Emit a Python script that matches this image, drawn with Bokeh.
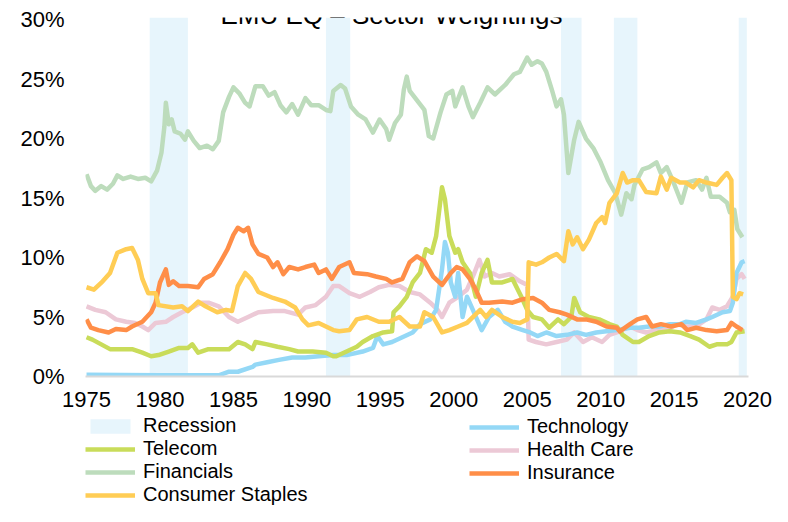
from bokeh.plotting import figure
from bokeh.layouts import column
from bokeh.models import (Range1d, FixedTicker, PrintfTickFormatter, Legend,
                          LegendItem, Label)
from bokeh.embed import file_html
from bokeh.resources import INLINE

# ---------------- data (year, % weight) ----------------
x_ticks = [1975, 1980, 1985, 1990, 1995, 2000, 2005, 2010, 2015, 2020]
y_ticks = [0, 5, 10, 15, 20, 25, 30]

recession_start = [1979.3, 1991.3, 2007.3, 2010.9, 2019.4]
recession_end = [1981.9, 1992.95, 2008.7, 2012.5, 2019.95]

technology = [(1975.0, 0.15), (1980.0, 0.1), (1984.0, 0.1), (1984.7, 0.4), (1985.3, 0.4), (1986.3, 0.8),
              (1986.5, 1.0), (1987.3, 1.2), (1988.1, 1.4), (1989.0, 1.6), (1989.9, 1.6), (1990.8, 1.7),
              (1991.8, 1.8), (1992.7, 1.8), (1993.8, 2.1), (1994.5, 2.4), (1994.8, 3.4), (1995.2, 2.7),
              (1995.8, 2.9), (1996.5, 3.3), (1997.2, 3.7), (1997.7, 4.4), (1998.4, 4.8), (1998.8, 5.6),
              (1999.2, 9.0), (1999.4, 11.3), (1999.6, 10.4), (1999.8, 7.9), (2000.1, 6.7), (2000.3, 8.7),
              (2000.6, 5.0), (2000.9, 6.7), (2001.3, 5.6), (2001.9, 3.9), (2002.4, 5.0), (2003.0, 5.6),
              (2003.5, 4.6), (2004.0, 4.2), (2004.7, 3.9), (2005.2, 3.7), (2005.7, 3.4), (2006.3, 3.7),
              (2007.0, 3.4), (2007.7, 3.5), (2008.4, 3.7), (2009.0, 3.5), (2009.7, 3.7), (2010.4, 3.8),
              (2011.1, 3.9), (2012.0, 4.1), (2012.6, 4.1), (2013.3, 4.2), (2014.0, 4.2), (2014.7, 4.4),
              (2015.4, 4.4), (2015.8, 4.6), (2016.5, 4.5), (2017.2, 4.8), (2017.6, 5.0), (2018.3, 5.4),
              (2018.8, 5.5), (2019.0, 6.2), (2019.25, 8.7), (2019.6, 9.6), (2019.8, 9.7)]

telecom = [(1975.0, 3.3), (1975.4, 3.1), (1976.0, 2.7), (1976.6, 2.3), (1977.4, 2.3), (1978.1, 2.3),
           (1978.8, 2.0), (1979.4, 1.7), (1979.9, 1.8), (1980.6, 2.1), (1981.3, 2.4), (1981.9, 2.4),
           (1982.2, 2.7), (1982.6, 2.0), (1983.3, 2.3), (1984.0, 2.3), (1984.7, 2.3), (1985.3, 2.9),
           (1985.8, 2.7), (1986.3, 2.3), (1986.5, 2.9), (1987.3, 2.7), (1988.0, 2.5), (1988.8, 2.3),
           (1989.4, 2.1), (1990.4, 2.1), (1991.3, 2.0), (1991.8, 1.7), (1992.0, 1.7), (1992.7, 2.1),
           (1993.4, 2.5), (1993.8, 2.9), (1994.5, 3.4), (1995.2, 3.7), (1995.8, 3.8), (1995.9, 5.4),
           (1996.3, 5.9), (1996.8, 6.7), (1997.2, 7.9), (1997.7, 8.7), (1998.1, 10.7), (1998.5, 10.4),
           (1998.8, 11.8), (1999.2, 15.9), (1999.4, 14.9), (1999.7, 11.8), (2000.1, 10.4), (2000.3, 10.7),
           (2000.6, 9.6), (2001.1, 8.7), (2001.5, 6.7), (2001.9, 8.7), (2002.3, 9.8), (2002.6, 7.9),
           (2003.3, 7.9), (2004.0, 8.2), (2004.6, 6.7), (2005.0, 5.6), (2005.4, 5.0), (2006.0, 4.8),
           (2006.5, 4.1), (2007.1, 4.8), (2007.5, 4.4), (2008.0, 5.0), (2008.2, 6.6), (2008.6, 5.4),
           (2009.2, 5.0), (2009.9, 4.8), (2010.6, 4.4), (2011.1, 4.2), (2011.5, 3.5), (2012.2, 2.9),
           (2012.6, 2.9), (2013.3, 3.4), (2014.0, 3.7), (2014.7, 3.8), (2015.4, 3.7), (2016.1, 3.4),
           (2016.7, 3.1), (2017.4, 2.5), (2017.9, 2.7), (2018.6, 2.7), (2018.9, 2.9), (2019.25, 3.7),
           (2019.8, 3.8)]

health_care = [(1975.0, 5.9), (1975.6, 5.6), (1976.3, 5.4), (1977.0, 4.8), (1977.7, 4.6), (1978.3, 4.5),
               (1978.8, 4.2), (1979.2, 3.9), (1979.7, 4.5), (1980.4, 4.6), (1980.9, 5.0), (1981.5, 5.4),
               (1982.2, 5.8), (1982.8, 6.2), (1983.3, 6.2), (1984.0, 5.9), (1984.7, 5.0), (1985.3, 4.6),
               (1986.0, 5.0), (1986.7, 5.4), (1987.7, 5.5), (1988.5, 5.5), (1989.4, 5.2), (1989.9, 5.8),
               (1990.6, 6.0), (1991.3, 6.7), (1991.8, 7.6), (1992.2, 7.6), (1992.9, 7.0), (1993.6, 6.7),
               (1994.3, 7.1), (1994.9, 7.5), (1995.6, 7.7), (1996.3, 7.6), (1997.0, 7.1), (1997.7, 6.9),
               (1998.4, 6.2), (1998.9, 5.6), (1999.2, 5.0), (1999.7, 6.2), (2000.3, 6.7), (2000.9, 7.3),
               (2001.4, 8.7), (2001.75, 9.8), (2002.1, 8.4), (2002.6, 8.7), (2003.1, 8.4), (2003.8, 8.6),
               (2004.5, 8.0), (2005.0, 7.7), (2005.1, 3.1), (2005.6, 2.9), (2006.3, 2.7), (2007.0, 2.9),
               (2007.7, 3.1), (2008.2, 3.7), (2008.8, 2.9), (2009.4, 3.3), (2010.1, 2.9), (2010.6, 3.5),
               (2011.3, 3.8), (2012.0, 4.2), (2012.5, 3.9), (2013.1, 3.7), (2013.8, 3.9), (2014.5, 3.9),
               (2015.2, 4.4), (2015.8, 4.2), (2016.5, 4.2), (2017.2, 4.8), (2017.6, 5.8), (2018.1, 5.6),
               (2018.6, 5.9), (2019.0, 6.7), (2019.25, 8.2), (2019.6, 8.6), (2019.8, 8.2)]

financials = [(1975.0, 17.0), (1975.3, 16.0), (1975.6, 15.6), (1976.0, 16.0), (1976.4, 15.7), (1976.8, 16.2),
              (1977.1, 16.9), (1977.5, 16.6), (1978.0, 16.8), (1978.5, 16.6), (1979.0, 16.7), (1979.4, 16.4),
              (1979.8, 17.3), (1980.1, 18.8), (1980.3, 21.0), (1980.4, 23.0), (1980.6, 21.2), (1980.8, 21.6),
              (1981.0, 20.6), (1981.4, 20.4), (1981.7, 19.9), (1981.9, 20.6), (1982.3, 19.8), (1982.7, 19.2),
              (1983.2, 19.4), (1983.6, 19.1), (1984.0, 19.8), (1984.3, 22.2), (1984.7, 23.5), (1985.0, 24.3),
              (1985.4, 23.8), (1985.8, 23.0), (1986.1, 22.7), (1986.5, 24.4), (1987.0, 24.4), (1987.4, 23.6),
              (1987.8, 23.9), (1988.2, 22.8), (1988.6, 22.2), (1989.0, 22.9), (1989.4, 22.0), (1989.9, 23.4),
              (1990.3, 22.8), (1990.8, 22.8), (1991.3, 22.4), (1991.6, 22.3), (1991.8, 24.0), (1992.3, 24.5),
              (1992.6, 24.2), (1993.0, 22.7), (1993.5, 22.0), (1994.0, 21.6), (1994.5, 20.5), (1994.95, 21.6),
              (1995.4, 20.8), (1995.6, 19.9), (1996.0, 21.3), (1996.4, 22.0), (1996.6, 24.1), (1996.8, 25.2),
              (1997.0, 24.0), (1997.5, 23.2), (1998.0, 22.4), (1998.3, 20.2), (1998.6, 20.0), (1999.1, 22.2),
              (1999.5, 23.7), (1999.9, 24.0), (2000.1, 22.7), (2000.6, 24.3), (2001.0, 22.7), (2001.3, 21.8),
              (2001.8, 23.0), (2002.3, 24.3), (2002.8, 23.7), (2003.5, 24.5), (2004.1, 25.4), (2004.5, 25.6),
              (2005.0, 26.8), (2005.3, 26.2), (2005.7, 26.5), (2006.0, 26.3), (2006.3, 25.6), (2006.7, 24.0),
              (2007.0, 22.7), (2007.3, 23.3), (2007.5, 22.0), (2007.8, 17.1), (2008.2, 19.9), (2008.5, 21.4),
              (2009.0, 20.0), (2009.5, 19.2), (2010.0, 18.0), (2010.5, 16.5), (2011.0, 15.4), (2011.4, 13.6),
              (2011.75, 15.4), (2012.1, 14.9), (2012.3, 16.1), (2012.85, 17.4), (2013.3, 17.6), (2013.8, 18.0),
              (2014.1, 17.1), (2014.5, 17.6), (2014.9, 16.5), (2015.5, 14.6), (2015.9, 16.3), (2016.5, 16.5),
              (2016.9, 15.7), (2017.2, 16.7), (2017.5, 15.1), (2018.1, 15.1), (2018.6, 14.6), (2018.8, 13.8),
              (2019.1, 14.0), (2019.3, 12.4), (2019.65, 11.7)]

insurance = [(1975.0, 4.8), (1975.3, 4.1), (1975.8, 3.9), (1976.5, 3.7), (1977.0, 4.0), (1977.7, 3.9),
             (1978.1, 4.2), (1978.8, 4.6), (1979.4, 5.4), (1979.7, 6.2), (1980.0, 7.9), (1980.4, 9.0),
             (1980.6, 7.7), (1980.9, 8.0), (1981.3, 7.6), (1981.9, 7.6), (1982.6, 7.5), (1983.0, 8.2),
             (1983.6, 8.6), (1984.1, 9.6), (1984.6, 10.7), (1985.0, 11.9), (1985.3, 12.5), (1985.7, 12.2),
             (1986.0, 12.5), (1986.3, 11.1), (1986.7, 10.3), (1987.3, 10.0), (1987.7, 9.2), (1988.0, 9.6),
             (1988.4, 8.6), (1988.8, 9.2), (1989.4, 9.0), (1989.9, 9.2), (1990.5, 9.4), (1990.8, 8.7),
             (1991.3, 9.0), (1991.7, 8.2), (1992.2, 9.2), (1992.9, 9.6), (1993.2, 8.7), (1994.1, 8.6),
             (1994.7, 8.4), (1995.4, 8.2), (1995.8, 7.9), (1996.5, 8.2), (1997.0, 9.6), (1997.5, 10.1),
             (1998.0, 9.7), (1998.6, 8.4), (1999.2, 7.7), (1999.8, 8.7), (2000.2, 9.2), (2000.6, 9.0),
             (2001.1, 8.2), (2001.5, 7.3), (2001.9, 6.2), (2002.4, 6.2), (2003.3, 6.3), (2004.0, 6.2),
             (2004.7, 6.5), (2005.4, 6.6), (2006.0, 6.2), (2006.5, 5.6), (2007.2, 5.4), (2007.7, 5.2),
             (2008.4, 4.8), (2009.0, 4.8), (2009.7, 4.6), (2010.4, 4.2), (2011.1, 4.1), (2011.3, 3.8),
             (2012.0, 4.4), (2012.5, 4.8), (2013.1, 5.0), (2013.5, 4.2), (2014.1, 4.4), (2014.8, 4.2),
             (2015.5, 4.4), (2015.9, 3.9), (2016.5, 4.1), (2017.2, 3.9), (2017.9, 3.8), (2018.6, 3.9),
             (2018.9, 4.5), (2019.25, 4.2), (2019.65, 3.9)]

consumer_staples = [(1975.0, 7.5), (1975.5, 7.3), (1976.1, 8.0), (1976.6, 8.7), (1977.1, 10.4), (1977.7, 10.7),
                    (1978.1, 10.8), (1978.5, 9.8), (1978.8, 8.2), (1979.2, 7.0), (1979.7, 7.0), (1979.9, 6.0),
                    (1980.9, 5.8), (1981.5, 5.9), (1981.9, 5.5), (1982.6, 6.3), (1983.1, 5.9), (1983.9, 5.4),
                    (1984.5, 5.6), (1984.9, 5.5), (1985.3, 7.6), (1985.8, 8.7), (1986.2, 8.2), (1986.7, 7.1),
                    (1987.7, 6.6), (1988.5, 6.3), (1989.2, 5.8), (1989.7, 4.8), (1990.1, 4.3), (1990.8, 4.5),
                    (1991.3, 4.2), (1991.8, 3.9), (1992.2, 3.8), (1992.9, 3.9), (1993.4, 4.8), (1994.1, 5.0),
                    (1994.9, 4.6), (1995.6, 4.6), (1996.3, 5.0), (1997.0, 4.2), (1997.7, 4.2), (1998.0, 5.4),
                    (1998.6, 5.0), (1999.2, 3.7), (1999.7, 3.9), (2000.3, 4.2), (2000.9, 4.5), (2001.8, 5.6),
                    (2002.2, 5.0), (2002.6, 5.6), (2003.3, 5.0), (2004.0, 4.6), (2004.5, 4.5), (2005.0, 4.8),
                    (2005.1, 9.6), (2005.6, 9.4), (2006.0, 9.6), (2006.5, 10.0), (2007.0, 10.3), (2007.5, 9.7),
                    (2007.8, 12.2), (2008.1, 11.1), (2008.4, 11.7), (2008.8, 10.7), (2009.2, 11.5), (2009.7, 12.9),
                    (2010.1, 13.4), (2010.3, 12.9), (2010.6, 14.6), (2011.1, 15.4), (2011.5, 17.1), (2011.8, 16.3),
                    (2012.2, 16.5), (2012.6, 16.5), (2013.1, 15.5), (2013.8, 15.4), (2014.1, 16.8), (2014.5, 15.7),
                    (2014.8, 16.7), (2015.4, 16.3), (2015.8, 16.3), (2016.3, 15.9), (2016.7, 16.5), (2017.2, 16.3),
                    (2017.9, 16.1), (2018.3, 16.7), (2018.6, 17.1), (2018.9, 16.5), (2019.0, 6.7), (2019.25, 6.5),
                    (2019.45, 7.0), (2019.7, 6.9)]

# ---------------- styling ----------------
FONT = "Liberation Sans"
X_START, X_END = 1974.93, 2020.065
Y_MAX = 30.17
REC_COLOR = "#e7f5fc"
COLORS = {
    "Technology": "#94d8f6",
    "Telecom": "#c9dc5a",
    "Health Care": "#ecc9d6",
    "Financials": "#bddcbc",
    "Insurance": "#ff8e48",
    "Consumer Staples": "#ffcd55",
}
LINE_W = 4.5

p = figure(width=772, height=416, output_backend="svg", toolbar_location=None,
           x_range=Range1d(X_START, X_END), y_range=Range1d(0, Y_MAX),
           min_border_left=85, min_border_right=24, min_border_top=17, min_border_bottom=40)
p.outline_line_color = None
p.grid.visible = False

p.quad(left=recession_start, right=recession_end, bottom=0, top=Y_MAX,
       fill_color=REC_COLOR, line_color=None)

series = [
    ("Financials", financials),
    ("Health Care", health_care),
    ("Technology", technology),
    ("Telecom", telecom),
    ("Insurance", insurance),
    ("Consumer Staples", consumer_staples),
]
for name, data in series:
    xs = [d[0] for d in data]
    ys = [d[1] for d in data]
    p.line(xs, ys, line_color=COLORS[name], line_width=LINE_W, line_join="round")

# axes
p.xaxis.ticker = FixedTicker(ticks=x_ticks)
p.yaxis.ticker = FixedTicker(ticks=y_ticks)
p.yaxis.formatter = PrintfTickFormatter(format="%d%%")
for ax in (p.xaxis[0], p.yaxis[0]):
    ax.major_tick_line_color = None
    ax.minor_tick_line_color = None
    ax.major_tick_out = 0
    ax.major_label_text_font = FONT
    ax.major_label_text_font_size = "22px"
    ax.major_label_text_color = "#000000"
p.xaxis.axis_line_color = "#d9d9d9"
p.xaxis.axis_line_width = 2
p.xaxis.major_label_standoff = 15
p.yaxis.axis_line_color = None
p.yaxis.major_label_standoff = 21

# title (partly cut off at the top, as in the reference)
p.add_layout(Label(x=306, y=362, x_units="screen", y_units="screen",
                   text="EMU EQ \u2013 Sector Weightings", text_align="center",
                   text_baseline="alphabetic", text_font=FONT, text_font_size="26px",
                   text_color="#000000"))

# ---------------- legend panel ----------------
LEG_H = 90
q = figure(width=772, height=LEG_H, output_backend="svg", toolbar_location=None,
           x_range=Range1d(0, 1), y_range=Range1d(0, 1),
           x_axis_location=None, y_axis_location=None, min_border=0)
q.outline_line_color = None
q.grid.visible = False

# legend swatches: renderers placed outside the visible range
swatch = {"Recession": q.quad(left=[-3], right=[-2], bottom=[-3], top=[-2],
                              fill_color=REC_COLOR, line_color=None)}
for name, _ in series:
    swatch[name] = q.line([-3, -2], [-3, -2], line_color=COLORS[name], line_width=LINE_W)


def make_legend(names, loc):
    lg = Legend(items=[LegendItem(label=n, renderers=[swatch[n]]) for n in names],
                location=loc, orientation="vertical")
    lg.padding = 0
    lg.margin = 0
    lg.spacing = -2
    lg.border_line_color = None
    lg.background_fill_alpha = 0
    lg.label_text_font = FONT
    lg.label_text_font_size = "20px"
    lg.label_text_color = "#000000"
    lg.glyph_width = 50
    lg.glyph_height = 18
    lg.label_standoff = 8
    lg.label_height = 20
    return lg


q.add_layout(make_legend(["Recession", "Telecom", "Financials", "Consumer Staples"], (0, 0)))
q.add_layout(make_legend(["Technology", "Health Care", "Insurance"], (384, 22)))

open("out.html", "w").write(file_html(column(p, q), INLINE))
